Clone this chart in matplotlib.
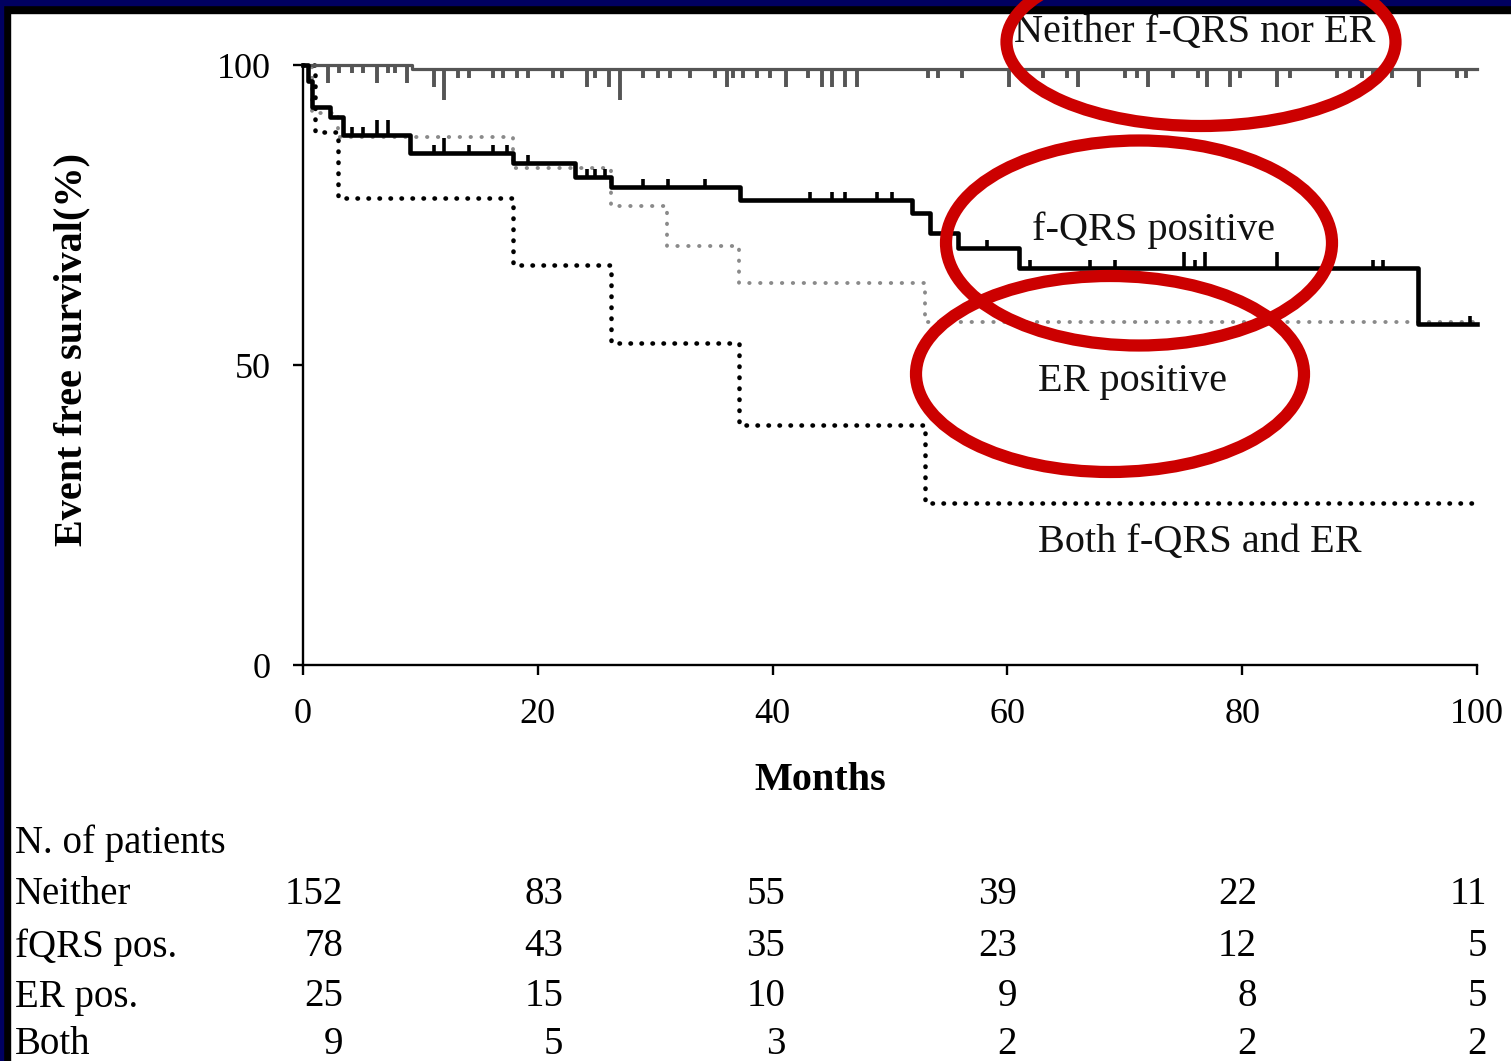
import numpy as np
import matplotlib.pyplot as plt
from matplotlib.patches import Ellipse, Rectangle

plt.rcParams['font.family'] = ['Liberation Serif', 'DejaVu Serif']

W, H = 1511, 1061

# Kaplan-Meier step data (months, event free survival %)
neither_t = [0, 9.3, 100]
neither_s = [100, 99.3, 99.3]
fqrs_t = [0, 0.4, 0.8, 2.3, 3.4, 9.1, 17.9, 23.2, 26.2, 37.2, 51.9, 53.4, 55.8, 61.0, 95.0, 100]
fqrs_s = [100, 97.4, 93.0, 91.3, 88.3, 85.3, 83.7, 81.3, 79.7, 77.5, 75.3, 72.0, 69.5, 66.2, 56.8, 56.8]
er_t = [0, 0.8, 3.0, 17.9, 26.2, 31.0, 37.1, 53.0, 100]
er_s = [100, 92.0, 88.0, 82.8, 76.5, 69.8, 63.7, 57.2, 57.2]
both_t = [0, 1.0, 3.0, 17.9, 26.2, 37.1, 53.0, 100]
both_s = [100, 88.9, 77.8, 66.7, 53.7, 40.0, 27.0, 27.0]

# censored observations
neither_cens = [3.1, 4.2, 5.1, 7.2, 7.8, 13.2, 14.1, 16.2, 17.0, 18.2, 19.2, 21.3, 22.1,
                24.9, 29.0, 30.2, 31.3, 33.0, 35.1, 36.6, 37.5, 38.7, 39.8, 43.0,
                53.2, 54.1, 56.1, 63.0, 65.1, 70.0, 71.0, 74.1, 76.2, 79.8, 84.1,
                88.1, 89.2, 90.2, 91.1, 92.8, 98.3, 99.1]
neither_cens_long = [2.1, 6.3, 8.9, 11.2, 24.2, 26.1, 36.1, 41.1, 44.2, 45.1, 46.2, 47.2,
                     60.1, 66.0, 72.0, 77.0, 79.0, 83.0, 95.1]
neither_cens_xlong = [12.0, 27.0]
fqrs_cens = [4.2, 5.1, 11.2, 14.1, 16.2, 17.4, 19.2, 24.2, 24.9, 25.7, 29.0, 31.1, 34.2,
             43.2, 45.1, 46.2, 48.9, 50.2, 58.3, 61.9, 67.0, 69.2, 76.0, 91.1, 92.0, 99.4]
fqrs_cens_long = [6.3, 7.2, 12.0, 75.0, 76.8, 83.0]

# number at risk table
risk_months = [0, 20, 40, 60, 80, 100]
risk_groups = ['Neither', 'fQRS pos.', 'ER pos.', 'Both']
risk_counts = [
    [152, 83, 55, 39, 22, 11],
    [78, 43, 35, 23, 12, 5],
    [25, 15, 10, 9, 8, 5],
    [9, 5, 3, 2, 2, 2],
]

curve_labels = ['Neither f-QRS nor ER', 'f-QRS positive', 'ER positive', 'Both f-QRS and ER']


def surv_at(times, surv, pts):
    idx = np.searchsorted(times, pts, side='right') - 1
    return np.asarray(surv)[idx]


fig = plt.figure(figsize=(W / 100, H / 100), dpi=100)
ax = fig.add_axes([303 / W, 1 - 665 / H, (1477 - 303) / W, 600 / H])

ax.step(neither_t, neither_s, where='post', color='#555555', lw=2.3, clip_on=False, zorder=3)
ax.step(er_t, er_s, where='post', color='#8a8a8a', lw=2.8, linestyle=(0, (0.1, 2.7)),
        dash_capstyle='round', clip_on=False, zorder=2)
ax.step(both_t, both_s, where='post', color='black', lw=3.3, linestyle=(0, (0.1, 2.3)),
        dash_capstyle='round', clip_on=False, zorder=2)
ax.step(fqrs_t, fqrs_s, where='post', color='black', lw=3.3, clip_on=False, zorder=4)

# censor marks: hanging below for Neither, standing up for f-QRS
for pts, ln in [(neither_cens, 1.4), (neither_cens_long, 3.0), (neither_cens_xlong, 5.2)]:
    y0 = surv_at(neither_t, neither_s, pts)
    ax.vlines(pts, y0 - ln, y0, color='#555555', lw=2.8, clip_on=False, zorder=3)
for pts, ln in [(fqrs_cens, 1.3), (fqrs_cens_long, 2.6)]:
    y0 = surv_at(fqrs_t, fqrs_s, pts)
    ax.vlines(pts, y0, y0 + ln, color='black', lw=2.6, clip_on=False, zorder=4)

ax.set_xlim(0, 100)
ax.set_ylim(0, 100)
ax.set_xticks([0, 20, 40, 60, 80, 100])
ax.set_yticks([0, 50, 100])
for s in ['top', 'right']:
    ax.spines[s].set_visible(False)
for s in ['left', 'bottom']:
    ax.spines[s].set_linewidth(1.7)
ax.tick_params(direction='out', length=7, width=1.7, labelsize=26, pad=16, colors='black')
ax.tick_params(axis='x', pad=17)

fig.text(72 / W, 1 - 350 / H, 'Event free survival(%)', rotation=90, fontsize=29,
         fontweight='bold', ha='center', va='center')
fig.text(820 / W, 1 - 781 / H, 'Months', fontsize=29, fontweight='bold',
         ha='center', va='center')

# curve labels
label_pos = [(1195, 33), (1153, 230), (1133, 382), (1200, 543)]
for txt, (px, py) in zip(curve_labels, label_pos):
    fig.text(px / W, 1 - py / H, txt, fontsize=29, ha='center', va='center', color='#111111')

# number at risk table
col_right = [343, 563, 785, 1017, 1257, 1487]
row_y = [895, 947, 997, 1045]
fig.text(15 / W, 1 - 843 / H, 'N. of patients', fontsize=28, ha='left', va='center')
for name, counts, ry in zip(risk_groups, risk_counts, row_y):
    fig.text(15 / W, 1 - ry / H, name, fontsize=28, ha='left', va='center')
    for n, cx in zip(counts, col_right):
        fig.text(cx / W, 1 - ry / H, str(n), fontsize=28, ha='right', va='center')

# overlay in pixel units: frame edges and red highlight rings
ov = fig.add_axes([0, 0, 1, 1], zorder=10)
ov.set_xlim(0, W)
ov.set_ylim(H, 0)
ov.axis('off')
ov.patch.set_alpha(0)
ov.add_patch(Rectangle((0, 0), W, 13, color='black'))
ov.add_patch(Rectangle((0, 0), 10, H, color='black'))
ov.add_patch(Rectangle((0, 0), W, 5, color='#000060'))
ov.add_patch(Rectangle((0, 0), 3, H, color='#000060'))
for cx, cy, ew, eh in [(1201, 42, 389, 168), (1139, 243, 386, 205), (1110, 374, 388, 196)]:
    ov.add_patch(Ellipse((cx, cy), ew, eh, fill=False, ec='#cc0000', lw=8.8))

fig.savefig('out.png', dpi=100)
